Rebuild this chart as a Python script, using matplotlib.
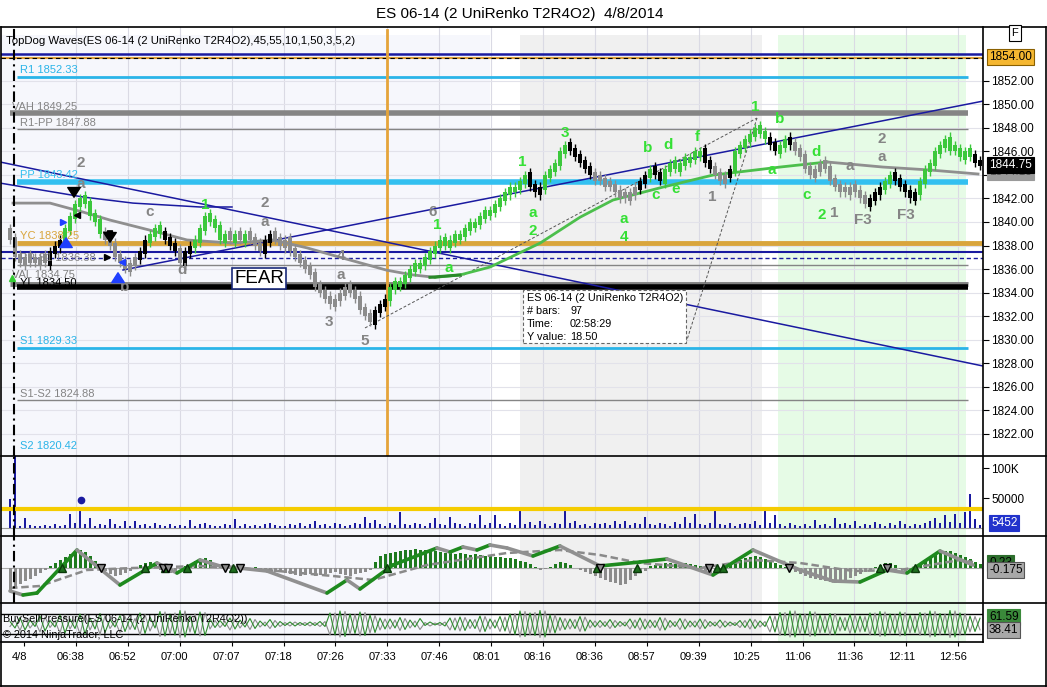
import numpy as np
import matplotlib
matplotlib.use("Agg")
import matplotlib.pyplot as plt
import matplotlib.transforms as mtransforms
from matplotlib.lines import Line2D
from matplotlib.patches import Rectangle

plt.rcParams['font.family'] = ['Liberation Sans', 'DejaVu Sans']

W, H = 1047, 687

# ---- price data: one close per UniRenko bar ----
closes = [
    1838.5,
    1837.0, 1836.5, 1837.0, 1836.5, 1836.5, 1837.0, 1836.5,
    1837.5, 1838.0, 1838.5,
    1839.5, 1840.5, 1841.5,
    1842.0, 1841.5, 1840.5, 1840.0, 1839.0,
    1838.5, 1838.0, 1837.0, 1836.5, 1836.0,
    1836.5, 1837.0,
    1837.5, 1838.5, 1839.0, 1839.5, 1839.0,
    1838.5, 1838.0, 1837.5, 1836.5,
    1837.5, 1838.0, 1838.5, 1839.5, 1840.5,
    1840.0, 1839.5, 1838.5,
    1839.0, 1838.5, 1839.0, 1838.5, 1839.0,
    1838.5, 1838.0, 1837.5, 1838.5, 1839.0,
    1838.5, 1838.0, 1838.5, 1837.5,
    1837.0, 1836.5, 1836.0, 1835.5, 1834.5, 1834.0, 1833.5, 1833.0,
    1833.5, 1834.0, 1834.5,
    1834.0, 1833.5, 1832.5, 1832.0, 1831.5,
    1832.5, 1833.0, 1833.5,
    1834.5, 1835.0, 1835.0, 1835.5, 1836.0, 1836.5, 1836.5, 1837.0, 1837.5, 1838.0, 1838.5,
    1838.0, 1838.5,
    1839.0, 1839.0, 1839.5, 1840.0, 1840.0, 1840.5, 1841.0, 1841.0, 1841.5, 1842.0,
    1842.5, 1843.0, 1843.0, 1843.5, 1844.0,
    1843.0, 1842.5, 1843.0,
    1844.0, 1844.5, 1845.0, 1846.0, 1846.5,
    1846.0, 1845.5, 1845.0, 1844.5, 1844.0,
    1843.5, 1843.5, 1843.0, 1843.0, 1842.5, 1842.0, 1842.0,
    1842.5, 1843.0, 1843.5, 1844.0,
    1844.5, 1844.0, 1843.5, 1844.5,
    1845.0, 1844.5, 1845.0, 1845.5, 1845.5, 1846.0, 1846.0,
    1845.0, 1844.5,
    1844.0, 1843.5, 1844.0,
    1844.5,
    1846.0, 1846.5, 1847.0, 1847.5, 1848.0,
    1847.5, 1847.0, 1846.5, 1846.0,
    1846.5, 1847.0, 1846.5,
    1846.0, 1845.5, 1844.5, 1844.0,
    1844.5, 1845.0,
    1844.5, 1843.5, 1843.0, 1842.5,
    1842.5, 1843.0, 1842.5,
    1842.0, 1841.5,
    1842.0, 1842.5, 1843.0,
    1843.5, 1844.0,
    1843.5, 1843.0, 1842.5, 1842.0,
    1842.5,
    1843.5, 1844.5, 1845.0, 1846.0, 1846.5,
    1847.0, 1846.0, 1846.0, 1845.5, 1846.0, 1845.5,
    1845.0, 1844.75,
]

# bar state runs: u = up trend (green), d = down trend (gray), n = counter bar (black)
state_runs = [("d", 8), ("n", 3), ("u", 8), ("d", 7), ("n", 2), ("u", 3), ("n", 3),
              ("d", 1), ("n", 2), ("u", 6), ("u", 1), ("d", 1), ("u", 1), ("d", 1),
              ("u", 1), ("d", 3), ("n", 2), ("d", 20), ("n", 3), ("u", 28), ("n", 3),
              ("u", 5), ("n", 5), ("d", 9), ("n", 2), ("u", 1), ("n", 2), ("u", 8),
              ("n", 2), ("d", 3), ("n", 1), ("u", 7), ("n", 2), ("u", 2), ("n", 1),
              ("d", 15), ("n", 3), ("u", 2), ("n", 5), ("u", 11), ("n", 2)]

# volume per bar, thousands of contracts
volume = [
    48, 120, 4, 17, 5, 3, 4, 5, 3, 6, 4, 5, 24, 8, 29, 6, 16, 4, 7, 5,
    15, 6, 4, 11, 3, 11, 5, 7, 4, 9, 5, 3, 6, 4, 5, 3, 13, 4, 6, 8,
    5, 3, 4, 7, 5, 15, 4, 6, 3, 5, 4, 6, 9, 5, 3, 4, 6, 5, 8, 4,
    6, 12, 5, 7, 4, 9, 6, 4, 5, 8, 6, 19, 9, 13, 6, 4, 8, 5, 27, 7,
    5, 9, 6, 4, 8, 16, 7, 5, 19, 8, 6, 4, 9, 7, 22, 5, 8, 22, 6, 4,
    9, 5, 29, 7, 10, 5, 12, 6, 4, 8, 6, 35, 9, 12, 5, 7, 4, 8, 6, 9,
    5, 11, 7, 12, 5, 9, 6, 19, 7, 5, 9, 6, 4, 10, 7, 18, 8, 24, 6, 5,
    9, 29, 7, 5, 8, 4, 6, 9, 7, 12, 5, 29, 8, 22, 6, 4, 9, 5, 3, 6,
    4, 13, 5, 7, 4, 17, 6, 9, 5, 11, 4, 7, 5, 10, 6, 4, 8, 5, 11, 6,
    4, 7, 5, 9, 12, 16, 8, 22, 10, 24, 9, 27, 56, 15, 5.452,
]
volume_avg = 32.3

# oscillator histogram per bar
osc_hist = [
    -22, -20, -16, -13, -11, -8, -5, -2,
    2, 5, 8, 11, 14, 17, 18, 16, 12, 7, 2,
    -3, -6, -8, -7, -5, -3, -1,
    3, 5, 6, 5, -2, -4, -5, -3, -1,
    2, 4, 7, 9, 10, 8,
    4, 2, 1, -1, 2, 3, 1, -2, 1,
    -2, -3, -2, -4, -3, -5, -6, -7, -8, -7, -6, -8, -7, -6, -5, -4, -6, -7, -8, -6,
    -5, -4, -2,
    6, 12, 14, 15, 16, 17, 18, 18, 19, 18, 18, 17, 17, 16,
    15, 15, 14, 15, 14, 13, 14, 13, 12, 12, 11, 11, 10, 10, 9,
    7, 6, 4, 1, -2, -1, 1, 4, 6, 5, 3, 0, -2, -4,
    -6, -8, -10, -12, -14, -15, -17, -16, -12, -8, -5, -3,
    2, 3, 4, 5, 5, 4, 5, 5, 4, 3, 2,
    -3, -5, -4, -2,
    2, 4, 6, 8, 10, 11, 12, 11, 9, 7, 5, 3, 1,
    -2, -4, -6, -8, -10, -11, -12, -13, -14, -15, -14, -12, -10, -8, -6,
    -4, -2, 1, 3, 5, 5, 3, -1, -3, -2,
    1, 4, 7, 10, 13, 15, 17, 17, 15, 13, 11, 9, 6, 4,
]
# oscillator line and signal, turning points (bar, value)
osc_line_x = [0, 2.6, 5.4, 13.4, 22, 29.4, 33.4, 38, 42, 51.4, 63.4, 67.4, 70, 76.6, 85.4,
              88, 90.6, 93.4, 96, 99.4, 104.6, 110, 118, 126, 131.4, 140.6, 148.6, 158,
              164.6, 170, 175.4, 179.4, 186, 192.6]
osc_line_y = [-23, -27, -25, 18, -17, 5, -5, 8, 2, -3, -25, -12, -21, 3, 20,
              16, 21, 18, 23, 20, 12, 22, 2, 6, 9, -7, 18, -2,
              -13, -14, -2, -5, 17, 3]
osc_sig_x = [0, 6, 15.4, 24.6, 38, 51.4, 64.6, 72.6, 83.4, 99.4, 110, 118, 126, 138,
             148.6, 158, 168.6, 178, 190, 192.6]
osc_sig_y = [-20, -18, -2, 0, 2, -2, -8, -12, 3, 15, 18, 13, 5, 0, 8, 5, -3, -2, 8, 6]
cross_up = [10.4, 27, 31, 35.4, 44.6, 75.4, 117.4, 125.4, 141.4, 142.6, 174, 181]
cross_dn = [18.2, 30.6, 31.6, 43, 46, 118, 139.8, 155.8, 175.4]

# buy pressure per bar (sell = 100 - buy)
buy_pressure = [
    55, 42, 63, 38, 58, 45, 66, 36, 57, 44, 68, 32, 60, 41, 70, 30, 62, 40, 71, 33,
    59, 44, 67, 35, 61, 39, 72, 31, 64, 42, 75, 26, 70, 28, 77, 24, 66, 30, 74, 27,
    60, 43, 57, 45, 62, 40, 58, 44, 61, 41, 56, 46, 59, 43, 55, 47, 54, 46, 53, 47,
    54, 47, 55, 45, 72, 28, 76, 25, 70, 31, 74, 27, 68, 33, 62, 40, 60, 42, 63, 39,
    58, 44, 61, 47, 54, 48, 53, 46, 62, 38, 64, 37, 59, 41, 66, 35, 60, 42, 65, 36,
    70, 29, 76, 25, 72, 27, 77, 24, 68, 32, 63, 39, 60, 41, 65, 36, 58, 44, 57, 45,
    59, 43, 55, 46, 60, 42, 62, 40, 58, 43, 63, 38, 57, 45, 61, 40, 56, 44, 60, 41,
    55, 46, 58, 44, 54, 47, 57, 43, 60, 41, 56, 45, 66, 34, 73, 27, 76, 24, 70, 30,
    75, 26, 68, 33, 71, 29, 64, 37, 69, 32, 66, 35, 72, 28, 75, 26, 70, 31, 74, 27,
    68, 33, 73, 28, 76, 25, 71, 30, 77, 24, 72, 29, 66, 35, 61.59,
]

# moving average (bar, price), gray / green / gray parts
ma_gray1_x = [0.6, 8, 14.6, 20, 28, 35.4, 44.6, 52.6, 59.4, 66, 75.4, 80.6, 85]
ma_gray1_y = [1841.6, 1841.6, 1840.84, 1840.16, 1839.3, 1838.47, 1838.2, 1838.47,
              1837.8, 1837.0, 1835.9, 1835.5, 1835.3]
ma_green_x = [85, 90, 96, 106, 114, 120.6, 130.6, 140.6, 154, 163.4]
ma_green_y = [1835.3, 1835.5, 1836.17, 1838.2, 1840.4, 1841.86, 1842.96, 1843.98,
              1844.66, 1845.09]
ma_gray2_x = [163.4, 174.6, 184, 193.6]
ma_gray2_y = [1845.09, 1844.66, 1844.41, 1844.07]

# pivot / value-area levels
level_names = ["R1", "VAH", "R1-PP", "PP", "YC", "PP-S1", "VAL", "YL", "S1", "S1-S2", "S2"]
level_values = [1852.33, 1849.25, 1847.88, 1843.42, 1838.25, 1836.38, 1834.75, 1834.50,
                1829.33, 1824.88, 1820.42]

# wave count labels (bar, price, text)
gray_waves = [(14.2, 1845.0, "2"), (14.2, 1843.2, "a"), (28, 1840.85, "c"), (34.4, 1835.9, "d"),
              (23, 1834.5, "b"), (51, 1841.6, "2"), (51, 1840.0, "a"), (66.2, 1837.1, "4"),
              (66.2, 1835.5, "a"), (63.8, 1831.5, "3"), (71, 1829.9, "5"), (84.6, 1840.85, "6"),
              (140.4, 1842.1, "1"), (164.8, 1840.8, "1"), (170.6, 1840.2, "F3"),
              (168, 1844.75, "a"), (174.4, 1847.0, "2"), (174.4, 1845.5, "a"),
              (179.2, 1840.6, "F3")]
green_waves = [(39, 1841.4, "1"), (85.4, 1839.7, "1"), (87.8, 1836.1, "a"), (102.4, 1845.1, "1"),
               (104.6, 1840.8, "a"), (104.6, 1839.2, "2"), (111, 1847.55, "3"),
               (122.8, 1840.25, "a"), (122.8, 1838.7, "4"), (127.6, 1846.3, "b"),
               (129.2, 1842.3, "c"), (131.6, 1846.5, "d"), (133.2, 1842.8, "e"),
               (137.4, 1847.2, "f"), (149, 1849.75, "1"), (154, 1848.7, "b"),
               (152.4, 1844.4, "a"), (161.2, 1845.9, "d"), (159.4, 1842.3, "c"),
               (162.4, 1840.6, "2")]

time_labels = ["4/8", "06:38", "06:52", "07:00", "07:07", "07:18", "07:26", "07:33", "07:46",
               "08:01", "08:16", "08:36", "08:57", "09:39", "10:25", "11:06", "11:36",
               "12:11", "12:56"]

# ---------------------------------------------------------------------------
GREEN = "#3cc83c"
WAVE_GREEN = "#35e035"
GRAY = "#8c8c8c"
NAVY = "#1a1aa0"
CYAN = "#2ab4e8"
ORANGE = "#e0a03a"


def fx(px):
    return px / W


def fy(py):
    return 1 - py / H


fig = plt.figure(figsize=(W / 100, H / 100), dpi=100)
fig.patch.set_facecolor("white")
LX, RX = 1, 983


def panel(top, bot):
    a = fig.add_axes([fx(LX), fy(bot), (RX - LX) / W, (bot - top) / H])
    for s in a.spines.values():
        s.set_visible(False)
    a.set_xlim(-1.8, 194.6)
    a.set_facecolor("white")
    return a


ax = panel(27, 456)
axv = panel(456, 536)
axo = panel(536, 603)
axb = panel(603, 642)

grid_x = 2.8 + 10.38 * np.arange(len(time_labels))
for a in (ax, axv, axo, axb):
    top = 0.981 if a is ax else 1.0
    a.axvspan(-1.8, 96, ymax=top, color="#f6f7fc", zorder=0, lw=0)
    a.axvspan(102, 150.4, ymax=top, color="#f0f0f0", zorder=0, lw=0)
    a.axvspan(153.6, 191.2, ymax=top, color="#e6fbe6", zorder=0, lw=0)
    for g in grid_x[1:]:
        a.axvline(g, color="#dadae4", lw=0.8, zorder=0.5)
    a.tick_params(left=False, labelleft=False, bottom=False, labelbottom=False)

# ---- price panel ----
ax.set_ylim(1820.13, 1856.55)
for p in np.arange(1822, 1856, 2):
    ax.axhline(p, color="#e2e2ea", lw=0.8, zorder=0.5)

ax.axhline(1854.3, color=NAVY, lw=1.8, zorder=2)
ax.axhline(1853.95, color=ORANGE, lw=1.5, zorder=2)
ax.axhline(1853.95, color="black", lw=0.8, ls=(0, (4, 3)), zorder=2)
ax.axhline(1837.45, color=NAVY, lw=1.5, zorder=2)
ax.axhline(1836.96, color=NAVY, lw=1.0, ls=(0, (3, 2)), zorder=2)

level_style = {
    "R1": (CYAN, 2.0, 1.4), "VAH": ("#858585", 4.0, 0.0), "R1-PP": ("#858585", 1.0, 1.4),
    "PP": ("#33c0f0", 4.0, 1.4), "YC": ("#d9a53c", 3.5, 1.4), "PP-S1": ("#858585", 1.0, 1.4),
    "VAL": ("#808080", 3.5, 0.0), "YL": ("black", 4.0, 1.4), "S1": (CYAN, 2.0, 1.4),
    "S1-S2": ("#858585", 1.0, 1.4), "S2": (CYAN, 0.0, 1.4),
}
label_shift = {"VAL": 0.75, "YL": 0.35}
for name, val in zip(level_names, level_values):
    col, lw, x0 = level_style[name]
    x1 = 194.6 if name == "YC" else 191.6
    if lw > 0:
        ax.hlines(val, x0, x1, colors=col, lw=lw, zorder=2)
    tcol = "black" if name == "YL" else col
    tx = 0.4 if name in ("VAH", "VAL") else 2.0
    ax.text(tx, val + label_shift.get(name, 0.55), f"{name} {val:.2f}", color=tcol,
            fontsize=8, va="center", ha="left", zorder=6)

# trend lines
ax.plot([-2, 194.6], [1845.09, 1827.77], color=NAVY, lw=1.1, zorder=2.5)
ax.plot([-2, 14.6, 24.6, 38, 44.4], [1843.3, 1842.12, 1841.6, 1841.27, 1841.27],
        color=NAVY, lw=1.1, zorder=2.5)
ax.plot([22.6, 194.6], [1835.92, 1850.26], color=NAVY, lw=1.1, zorder=2.5)
ax.plot([71, 149.4], [1831.0, 1848.82], color="#555555", lw=0.7, ls=(0, (3, 2)), zorder=2.5)
ax.plot([135.2, 149.4], [1829.72, 1848.82], color="#555555", lw=0.7, ls=(0, (3, 2)), zorder=2.5)

# vertical markers
ax.axvline(75.4, color="#e5a43a", lw=2, zorder=2.2, ymin=0, ymax=0.993)

# moving average
ax.plot(ma_gray1_x, ma_gray1_y, color="#8f8f8f", lw=2, zorder=3.5)
ax.plot(ma_green_x, ma_green_y, color="#4cbf4c", lw=2, zorder=3.5)
ax.plot(ma_gray2_x, ma_gray2_y, color="#8f8f8f", lw=2, zorder=3.5)
ax.plot([84, 90], [1835.3, 1835.5], color="#2a8a2a", lw=2.2, zorder=3.6)

# renko bars
c = np.array(closes)
idx = np.arange(len(c))
states = "".join(s * n for s, n in state_runs)
prev = np.r_[c[0] + 0.75, c[:-1]]
dirs = np.sign(c - prev)
for k in range(1, len(dirs)):
    if dirs[k] == 0:
        dirs[k] = dirs[k - 1]
opens = prev - dirs * 0.25
lo = np.minimum(opens, c)
hi = np.maximum(opens, c)
short = (hi - lo) < 0.5
lo = np.where(short & (dirs > 0), hi - 0.5, lo)
hi = np.where(short & (dirs < 0), lo + 0.5, hi)
state_col = {"u": GREEN, "d": GRAY, "n": "black"}
cols = [state_col[s] for s in states]
ax.vlines(idx, lo - 0.35, hi + 0.35, colors=cols, lw=1, zorder=4)
ax.bar(idx, hi - lo, bottom=lo, width=0.72, color=cols, zorder=4.1, lw=0)

# wave labels
for x, y, t in gray_waves:
    ax.text(x, y, t, color="#858585", fontsize=11, fontweight="bold", ha="center",
            va="center", zorder=7)
for x, y, t in green_waves:
    ax.text(x, y, t, color=WAVE_GREEN, fontsize=11, fontweight="bold", ha="center",
            va="center", zorder=7)

# signal arrows and small markers
arrow_kw = dict(arrowstyle="simple,head_width=0.9,head_length=0.7,tail_width=0.35")
ax.annotate("", xy=(11.2, 1838.89), xytext=(11.2, 1837.6),
            arrowprops=dict(color="#1f3fff", **arrow_kw), zorder=8)
ax.annotate("", xy=(21.6, 1835.92), xytext=(21.6, 1834.65),
            arrowprops=dict(color="#1f3fff", **arrow_kw), zorder=8)
ax.annotate("", xy=(12.8, 1841.86), xytext=(12.8, 1843.13),
            arrowprops=dict(color="black", **arrow_kw), zorder=8)
ax.annotate("", xy=(20.0, 1838.04), xytext=(20.0, 1839.48),
            arrowprops=dict(color="black", **arrow_kw), zorder=8)
ax.plot(10.6, 1840.0, marker=">", color="#1f3fff", ms=4, zorder=8)
ax.plot(13.4, 1840.6, marker="<", color="black", ms=4, zorder=8)
ax.plot(19.4, 1837.0, marker=">", color="black", ms=4, zorder=8)
ax.plot(22.4, 1836.6, marker="<", color="#1f3fff", ms=4, zorder=8)
ax.plot(0.4, 1835.2, marker="^", color="#33cc33", ms=5, zorder=8)

ax.text(49.8, 1835.2, "FEAR", fontsize=13.5, ha="center", va="center", zorder=9,
        bbox=dict(boxstyle="square,pad=0.12", fc="white", ec="#1a2a7a", lw=1.2))

# measurement tooltip
ax.add_patch(Rectangle((102.6, 1829.72), 32.6, 4.5, fc="white", ec="#666666", lw=0.8,
                       ls=(0, (3, 2)), zorder=8))
tip_rows = [("ES 06-14 (2 UniRenko T2R4O2)", ""), ("# bars:", "97"),
            ("Time:", "02:58:29"), ("Y value:", "18.50")]
for r, (k, v) in enumerate(tip_rows):
    yy = 1854 - (298 + 13 * r - 57) / 11.78
    ax.text(103.4, yy, k, fontsize=7.8, va="center", ha="left", zorder=9)
    if v:
        ax.text(112.0, yy, v, fontsize=7.8, va="center", ha="left", zorder=9)

ax.text(0.005, 0.968, "TopDog Waves(ES 06-14 (2 UniRenko T2R4O2),45,55,10,1,50,3,5,2)",
        transform=ax.transAxes, fontsize=8.2, va="center", ha="left", zorder=9)

ax.yaxis.tick_right()
ax.set_yticks(np.arange(1822, 1853, 2))
ax.set_yticklabels([f"{p:.2f}" for p in np.arange(1822, 1853, 2)])
ax.tick_params(right=True, labelright=True, length=4, width=0.8, pad=2, labelsize=8.5,
               direction="out")

# ---- volume panel ----
axv.set_ylim(-13.3, 120)
axv.axhline(0, color="#999999", lw=0.8, zorder=1)
axv.bar(idx, volume, width=0.4, color=NAVY, zorder=3, lw=0)
axv.axhline(volume_avg, color="#f5cc00", lw=3, zorder=4)
axv.plot(14.2, 46.7, "o", color=NAVY, ms=4.5, zorder=5)
axv.yaxis.tick_right()
axv.set_yticks([50, 100])
axv.set_yticklabels(["50000", "100K"])
axv.tick_params(right=True, labelright=True, length=4, width=0.8, pad=2, labelsize=8.5)

# ---- oscillator panel ----
axo.set_ylim(-35, 32)
axo.axhline(0, color="#aaaaaa", lw=0.8, zorder=1)
oh = np.array(osc_hist)
axo.bar(idx, oh, width=0.6, color=np.where(oh >= 0, "#1e7a1e", "#8c8c8c"), zorder=2, lw=0)
axo.plot(osc_sig_x, osc_sig_y, color="#8a8a8a", lw=1.8, ls=(0, (3, 1.5)), zorder=3)
for k in range(len(osc_line_x) - 1):
    up = osc_line_y[k + 1] >= osc_line_y[k]
    axo.plot(osc_line_x[k:k + 2], osc_line_y[k:k + 2], color="#1e8a1e" if up else "#909090",
             lw=2.6, zorder=4, solid_capstyle="round")
axo.plot(cross_up, [0] * len(cross_up), "^", color="#1e6e1e", mec="#0a3a0a", ms=6, zorder=5)
axo.plot(cross_dn, [0] * len(cross_dn), "v", color="#8c8c8c", mec="black", ms=6, zorder=5)

# ---- buy / sell pressure panel ----
bp = np.array(buy_pressure)
axb.set_ylim(14, 92)
axb.axhline(70, color="black", lw=1, zorder=2)
axb.axhline(30, color="black", lw=1, zorder=2)
axb.plot(idx, 100 - bp, color="#8c8c8c", lw=0.8, zorder=3)
axb.plot(idx, bp, color="#2e8b2e", lw=0.8, zorder=3)
axb.text(0.002, 0.58, "BuySellPressure(ES 06-14 (2 UniRenko T2R4O2))", transform=axb.transAxes,
         fontsize=7.8, va="center", ha="left", zorder=6)
axb.text(0.002, 0.18, "\u00a9 2014 NinjaTrader, LLC", transform=axb.transAxes,
         fontsize=7.8, va="center", ha="left", zorder=6)

axb.set_xticks(grid_x)
axb.set_xticklabels(time_labels)
axb.tick_params(bottom=True, labelbottom=True, length=3, width=0.8, labelsize=8, pad=4)
shift = mtransforms.ScaledTranslation(-5 / 100, 0, fig.dpi_scale_trans)
for lab in axb.get_xticklabels():
    lab.set_transform(lab.get_transform() + shift)

# session start line through all panels
for a in (ax, axv, axo):
    a.axvline(0.8, color="black", lw=1.5, ls=(0, (5, 2, 1, 2)), zorder=6)

# ---- frame lines ----
def fline(x0, y0, x1, y1, lw=1.2, color="black"):
    fig.add_artist(Line2D([fx(x0), fx(x1)], [fy(y0), fy(y1)], color=color, lw=lw))


fline(1, 27, 1046, 27)
fline(1, 686, 1046, 686)
fline(1, 27, 1, 686)
fline(1046, 27, 1046, 686)
fline(983, 27, 983, 642)
for yy in (456, 536, 603):
    fline(1, yy, 1046, yy)
fline(1, 642, 983, 642)

# ---- right-hand value tags ----
def tag(px, py, text, fc, tc="black", ec=None, size=8.5):
    fig.text(fx(px), fy(py), text, fontsize=size, color=tc, ha="left", va="center",
             bbox=dict(boxstyle="square,pad=0.15", fc=fc, ec=ec or fc, lw=0.8))


tag(989, 57, "1854.00", "#f5b731", ec="#8a6000")
tag(989, 172, "1844.15", "#9a9a9a", tc="#555555")
tag(989, 165, "1844.75", "black", tc="white")
tag(991, 523, "5452", "#2233cc", tc="white")
tag(989, 563, "0.23", "#2d6e2d")
tag(989, 570, "-0.175", "#a8a8a8", ec="#555555")
tag(989, 617, "61.59", "#3a8a3a")
tag(989, 630, "38.41", "#a8a8a8", ec="#555555")
fig.text(fx(1015), fy(33), "F", fontsize=8, ha="center", va="center",
         bbox=dict(boxstyle="square,pad=0.25", fc="white", ec="black", lw=0.8))

fig.text(fx(520), fy(14), "ES 06-14 (2 UniRenko T2R4O2)  4/8/2014", fontsize=11,
         ha="center", va="center")

fig.savefig("out.png", dpi=100, facecolor="white")
